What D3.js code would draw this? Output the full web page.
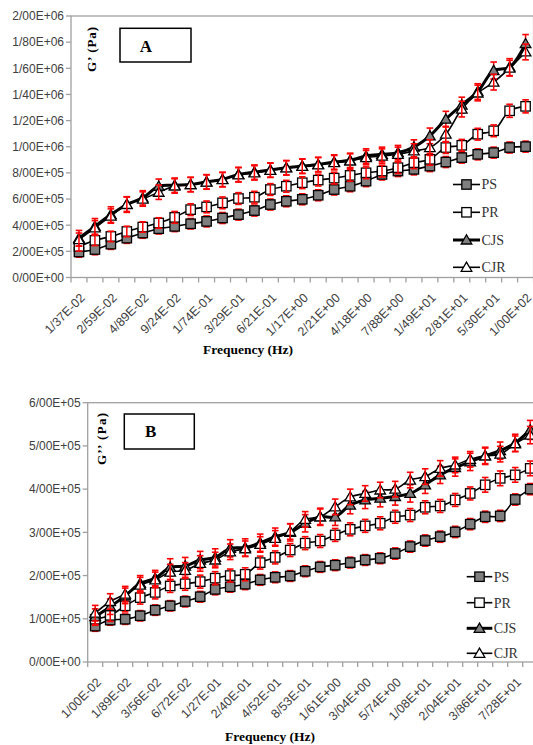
<!DOCTYPE html>
<html><head><meta charset="utf-8">
<script src="https://cdn.jsdelivr.net/npm/d3@7"></script>
<style>body{margin:0;background:#fff}svg{display:block}</style>
</head><body><svg id="c" width="533" height="745"></svg>
<script>
// ---------- DATA : panel A (G') ----------
const xTickLabelsA = ["1/37E-02","2/59E-02","4/89E-02","9/24E-02","1/74E-01","3/29E-01","6/21E-01","1/17E+00","2/21E+00","4/18E+00","7/88E+00","1/49E+01","2/81E+01","5/30E+01","1/00E+02"];
const yTicksA = [0,200000,400000,600000,800000,1000000,1200000,1400000,1600000,1800000,2000000];
const yTickLabelsA = ["0/00E+00","2/00E+05","4/00E+05","6/00E+05","8/00E+05","1/00E+06","1/20E+06","1/40E+06","1/60E+06","1/80E+06","2/00E+06"];
const psA  = [195000,214000,255000,301000,340000,373000,391000,411000,429000,455000,481000,512000,558000,583000,598000,629000,673000,698000,737000,788000,814000,827000,852000,883000,917000,942000,955000,994000,1001000];
const prA  = [237000,284000,314000,352000,386000,417000,460000,519000,540000,571000,604000,614000,673000,698000,725000,745000,760000,781000,801000,814000,840000,878000,904000,994000,1011000,1096000,1122000,1275000,1309000];
const cjsA = [300000,391000,481000,558000,609000,698000,706000,711000,732000,750000,788000,806000,822000,840000,852000,865000,883000,896000,929000,942000,955000,998000,1083000,1211000,1319000,1422000,1583000,1609000,1788000];
const cjrA = [290000,380000,470000,560000,600000,652000,700000,711000,730000,748000,785000,800000,820000,838000,850000,862000,878000,891000,917000,929000,942000,968000,994000,1096000,1288000,1411000,1494000,1601000,1725000];
const errPsA  = [40000,40000,40000,40000,40000,40000,40000,40000,42000,42000,42000,42000,42000,42000,42000,42000,42000,42000,42000,42000,42000,42000,42000,42000,42000,42000,42000,42000,42000];
const errPrA  = [35000,40000,40000,40000,40000,40000,45000,45000,45000,45000,45000,45000,45000,45000,45000,45000,45000,45000,45000,45000,45000,45000,45000,45000,45000,45000,45000,50000,50000];
const errCjsA = [60000,60000,60000,60000,55000,55000,55000,55000,55000,55000,55000,55000,55000,55000,55000,55000,55000,55000,55000,55000,55000,55000,60000,60000,60000,60000,65000,65000,70000];
const errCjrA = [50000,55000,55000,55000,55000,55000,55000,55000,55000,55000,55000,55000,55000,55000,55000,55000,55000,55000,55000,55000,55000,55000,60000,60000,60000,60000,60000,60000,60000];

// ---------- DATA : panel B (G'') ----------
const xTickLabelsB = ["1/00E-02","1/89E-02","3/56E-02","6/72E-02","1/27E-01","2/40E-01","4/52E-01","8/53E-01","1/61E+00","3/04E+00","5/74E+00","1/08E+01","2/04E+01","3/86E+01","7/28E+01"];
const yTicksB = [0,100000,200000,300000,400000,500000,600000];
const yTickLabelsB = ["0/00E+00","1/00E+05","2/00E+05","3/00E+05","4/00E+05","5/00E+05","6/00E+05"];
const psB  = [83000,97000,99000,107000,120000,130000,140000,151000,168000,174000,180000,190000,196000,199000,210000,220000,224000,230000,236000,240000,251000,267000,281000,290000,301000,319000,336000,338000,376000,400000];
const prB  = [99000,108000,130000,149000,161000,176000,181000,186000,194000,200000,203000,230000,242000,259000,275000,280000,294000,307000,315000,321000,336000,340000,358000,361000,375000,390000,410000,425000,433000,448000];
const cjsB = [105000,128000,153000,182000,194000,219000,222000,236000,242000,263000,265000,276000,290000,300000,321000,336000,336000,363000,375000,379000,383000,390000,410000,433000,450000,463000,477000,489000,507000,537000];
const cjrB = [113000,140000,157000,178000,190000,208000,212000,228000,236000,255000,262000,272000,286000,302000,330000,336000,359000,382000,390000,398000,400000,421000,429000,448000,456000,469000,477000,481000,505000,525000];
const errPsB  = [12000,12000,12000,12000,12000,12000,12500,12500,12500,12500,12500,12500,12500,12500,12500,12500,12500,12500,12500,12500,13000,13000,13000,13000,13000,13000,13000,13000,13000,13000];
const errPrB  = [14000,14000,14000,15000,15000,15000,15000,15000,15000,15000,15000,15000,15000,15000,15000,15000,15000,15000,15000,15000,15000,15000,15000,15000,15000,15000,17000,17000,17000,17000];
const errCjsB = [18000,18000,18000,18000,18000,20000,20000,20000,20000,20000,20000,20000,20000,20000,20000,20000,20000,20000,20000,20000,20000,20000,20000,20000,20000,20000,20000,20000,20000,22000];
const errCjrB = [18000,18000,18000,18000,18000,18000,18000,18000,18000,18000,18000,18000,18000,18000,18000,18000,18000,18000,18000,18000,18000,18000,18000,18000,18000,18000,18000,18000,18000,20000];

const seriesNames = ["PS","PR","CJS","CJR"];

// ---------- DRAWING ----------
const svg = d3.select("#c");
const GRAY = "#7f7f7f", AXIS = "#a0a0a0", TXT = "#404040";

const styles = [
  {shape:"square", fill:GRAY, lw:1.6},
  {shape:"square", fill:"#fff", lw:1.6},
  {shape:"tri", fill:GRAY, lw:3},
  {shape:"tri", fill:"#fff", lw:1.6}
];

function marker(g, shape, fill, cx, cy){
  if(shape==="square"){
    g.append("rect").attr("x",cx-4.7).attr("y",cy-4.7).attr("width",9.4).attr("height",9.4)
      .attr("fill",fill).attr("stroke","#000").attr("stroke-width",1.3);
  } else {
    g.append("path").attr("d",`M${cx},${cy-5.2}L${cx+5.3},${cy+4}L${cx-5.3},${cy+4}Z`)
      .attr("fill",fill).attr("stroke","#000").attr("stroke-width",1.3);
  }
}

function panel(c){
  const n = c.series[0].length;
  const x = d3.scaleBand().domain(d3.range(n)).range([c.left, c.left + n*c.step]).padding(0);
  const y = d3.scaleLinear().domain([0, c.ymax]).range([c.bottom, c.top]);
  const bw = x.bandwidth();
  const cx = i => x(i) + bw/2;
  const g = svg.append("g");

  g.append("rect").attr("x",c.left).attr("y",c.top).attr("width",n*c.step).attr("height",c.bottom-c.top)
    .attr("fill","none").attr("stroke",AXIS).attr("stroke-width",1.3);

  c.yTicks.forEach((v,k)=>{
    g.append("line").attr("x1",c.left-5).attr("x2",c.left).attr("y1",y(v)).attr("y2",y(v))
      .attr("stroke",AXIS).attr("stroke-width",1.3);
    g.append("text").attr("x",c.left-7).attr("y",y(v)).attr("dy","0.36em").attr("text-anchor","end")
      .attr("font-family","Liberation Sans, Arial, sans-serif").attr("font-size",12).attr("fill",TXT)
      .text(c.yLabels[k]);
  });
  d3.range(n+1).forEach(i=>{
    const xx = i<n ? x(i) : x(n-1)+bw;
    g.append("line").attr("x1",xx).attr("x2",xx).attr("y1",c.bottom).attr("y2",c.bottom+5)
      .attr("stroke",AXIS).attr("stroke-width",1.3);
  });
  c.xLabels.forEach((lab,k)=>{
    const px = cx(2*k)+3.5, py = c.bottom+18;
    g.append("text").attr("transform",`translate(${px},${py}) rotate(-45)`).attr("dy","0.36em")
      .attr("text-anchor","end").attr("font-family","Liberation Sans, Arial, sans-serif")
      .attr("font-size",12.5).attr("fill",TXT).text(lab);
  });

  const line = d3.line().x((d,i)=>cx(i)).y(d=>y(d)).curve(d3.curveCatmullRom);
  c.series.forEach((s,si)=>{
    g.append("path").attr("d",line(s)).attr("fill","none").attr("stroke","#000")
      .attr("stroke-width",styles[si].lw);
  });
  function errbars(s,e){
    s.forEach((v,i)=>{
      const x0=cx(i), y1=y(v+e[i]), y2=y(v-e[i]);
      g.append("line").attr("x1",x0).attr("x2",x0).attr("y1",y1).attr("y2",y2).attr("stroke","#ff0000").attr("stroke-width",1.5);
      [y1,y2].forEach(yy=>g.append("line").attr("x1",x0-3.3).attr("x2",x0+3.3).attr("y1",yy).attr("y2",yy)
        .attr("stroke","#ff0000").attr("stroke-width",1.6));
    });
  }
  c.series.forEach((s,si)=>{
    const st = styles[si];
    if(st.fill!=="#fff"){
      errbars(s,c.errs[si]);
      s.forEach((v,i)=>marker(g,st.shape,st.fill,cx(i),y(v)));
    } else {
      s.forEach((v,i)=>marker(g,st.shape,st.fill,cx(i),y(v)));
      errbars(s,c.errs[si]);
    }
  });

  seriesNames.forEach((name,k)=>{
    const ly = c.legY[k], st = styles[k];
    g.append("line").attr("x1",c.legX1).attr("x2",c.legX2).attr("y1",ly).attr("y2",ly)
      .attr("stroke","#000").attr("stroke-width",st.lw);
    marker(g,st.shape,st.fill,(c.legX1+c.legX2)/2,ly);
    g.append("text").attr("x",c.legX2+1.5).attr("y",ly).attr("dy","0.35em")
      .attr("font-family","Liberation Serif, Times New Roman, serif").attr("font-size",14).attr("fill","#333")
      .text(name);
  });

  g.append("rect").attr("x",c.box[0]).attr("y",c.box[1]).attr("width",c.box[2]).attr("height",c.box[3])
    .attr("fill","#fff").attr("stroke","#000").attr("stroke-width",1.5);
  g.append("text").attr("x",c.boxText[0]).attr("y",c.boxText[1]).attr("text-anchor","middle")
    .attr("font-family","Liberation Serif, Times New Roman, serif").attr("font-weight","bold").attr("font-size",17)
    .text(c.letter);

  g.append("text").attr("transform",`translate(${c.yTitle[0]},${c.yTitle[1]}) rotate(-90)`).attr("text-anchor","middle")
    .attr("font-family","Liberation Serif, Times New Roman, serif").attr("font-weight","bold").attr("font-size",13)
    .attr("textLength",c.yTitle[2]).attr("lengthAdjust","spacing").text(c.yTitleText);
  g.append("text").attr("x",c.xTitle[0]).attr("y",c.xTitle[1]).attr("text-anchor","middle")
    .attr("font-family","Liberation Serif, Times New Roman, serif").attr("font-weight","bold").attr("font-size",13.5)
    .text("Frequency (Hz)");
}

panel({
  left:71, step:15.95, top:16, bottom:277.5, ymax:2000000,
  series:[psA,prA,cjsA,cjrA], errs:[errPsA,errPrA,errCjsA,errCjrA],
  yTicks:yTicksA, yLabels:yTickLabelsA, xLabels:xTickLabelsA,
  legX1:453, legX2:480, legY:[184.5,212.3,240,267.3],
  box:[120,28.3,71,33.7], boxText:[146,52], letter:"A",
  yTitle:[96,49.5,45], yTitleText:"G’ (Pa)", xTitle:[248,354]
});
panel({
  left:87.7, step:15, top:402.7, bottom:662, ymax:600000,
  series:[psB,prB,cjsB,cjrB], errs:[errPsB,errPrB,errCjsB,errCjrB],
  yTicks:yTicksB, yLabels:yTickLabelsB, xLabels:xTickLabelsB,
  legX1:466.7, legX2:492.3, legY:[576.7,602.7,628.3,653.3],
  box:[124.3,414,70,35], boxText:[150.7,437], letter:"B",
  yTitle:[105.5,439,52], yTitleText:"G’’ (Pa)", xTitle:[270,741]
});
</script></body></html>
